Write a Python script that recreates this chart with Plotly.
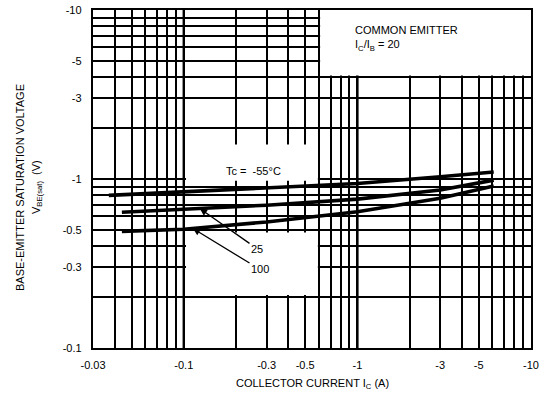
import numpy as np
import plotly.graph_objects as go

# ---- data (magnitudes of negative quantities; labels carry the minus sign) ----
ic_m55 = [0.037, 0.1, 0.3, 1.0, 3.0, 6.1]
vbe_m55 = [0.80, 0.84, 0.885, 0.94, 1.03, 1.10]
ic_25 = [0.044, 0.1, 0.3, 1.0, 3.0, 6.1]
vbe_25 = [0.636, 0.66, 0.70, 0.76, 0.86, 0.985]
ic_100 = [0.044, 0.1, 0.3, 1.0, 3.0, 6.1]
vbe_100 = [0.49, 0.504, 0.557, 0.64, 0.77, 0.91]

x_grid = [0.03, 0.04, 0.05, 0.06, 0.07, 0.08, 0.09,
          0.1, 0.2, 0.3, 0.4, 0.5, 0.6, 0.7, 0.8, 0.9,
          1, 2, 3, 4, 5, 6, 7, 8, 9, 10]
x_labels = {0.03: "-0.03", 0.1: "-0.1", 0.3: "-0.3", 0.5: "-0.5",
            1: "-1", 3: "-3", 5: "-5", 10: "-10"}
y_grid = [0.1, 0.2, 0.3, 0.4, 0.5, 0.6, 0.7, 0.8, 0.9,
          1, 2, 3, 4, 5, 6, 7, 8, 9, 10]
y_labels = {0.1: "-0.1", 0.3: "-0.3", 0.5: "-0.5", 1: "-1",
            3: "-3", 5: "-5", 10: "-10"}
major_x = [0.1, 1]

W, H = 543, 396
L, R, T, B = 93, 12, 10, 48
pw, ph = W - L - R, H - T - B


def px(x):
    return (x - L) / pw


def py(y):
    return (H - B - y) / ph


FONT = "Liberation Sans, Arial, Helvetica, sans-serif"

fig = go.Figure()
for xs, ys in [(ic_m55, vbe_m55), (ic_25, vbe_25), (ic_100, vbe_100)]:
    fig.add_trace(go.Scatter(x=xs, y=ys, mode="lines",
                             line=dict(color="black", width=3.6),
                             showlegend=False, hoverinfo="skip"))

shapes = []
for v in major_x:
    shapes.append(dict(type="line", xref="x", yref="paper",
                       x0=v, x1=v, y0=0, y1=1,
                       line=dict(color="black", width=2.4), layer="above"))
# white blank areas (as in the printed datasheet); shapes use data values
boxes = [
    (0.103, 0.592, 0.975, 1.6),   # behind "Tc = -55°C"
    (0.103, 0.592, 0.206, 0.482), # behind "25" / "100"
    (0.61, 10.0, 4.1, 10.0),      # behind "COMMON EMITTER"
]
for x0, x1, y0, y1 in boxes:
    shapes.append(dict(type="rect", xref="x", yref="y",
                       x0=x0, x1=x1, y0=y0, y1=y1,
                       fillcolor="white", line=dict(width=0), layer="above"))


def tip(xv, xs, ys):
    return float(np.interp(np.log10(xv), np.log10(xs), np.log10(ys)))


annotations = [
    dict(xref="paper", yref="paper", x=px(253), y=py(171), text="Tc =  -55°C",
         showarrow=False, xanchor="center", yanchor="middle",
         font=dict(size=11, color="black", family=FONT)),
    dict(xref="paper", yref="paper", x=px(353), y=py(22),
         text="COMMON EMITTER<br>I<sub>C</sub>/I<sub>B</sub> = 20",
         showarrow=False, xanchor="left", yanchor="top", align="left",
         font=dict(size=11, color="black", family=FONT)),
    dict(xref="x", yref="y", x=np.log10(0.124), y=tip(0.124, ic_25, vbe_25),
         text="25", showarrow=True, ax=57, ay=40, arrowhead=2, arrowsize=1.1,
         arrowwidth=1.3, arrowcolor="black",
         font=dict(size=11, color="black", family=FONT)),
    dict(xref="x", yref="y", x=np.log10(0.113), y=tip(0.113, ic_100, vbe_100),
         text="100", showarrow=True, ax=67, ay=41, arrowhead=2, arrowsize=1.1,
         arrowwidth=1.3, arrowcolor="black",
         font=dict(size=11, color="black", family=FONT)),
    dict(xref="paper", yref="paper", x=px(312), y=py(384),
         text="COLLECTOR CURRENT I<sub>C</sub> (A)", showarrow=False,
         xanchor="center", yanchor="middle",
         font=dict(size=11, color="black", family=FONT)),
    dict(xref="paper", yref="paper", x=px(20), y=py(188),
         text="BASE-EMITTER SATURATION VOLTAGE", showarrow=False,
         textangle=-90, xanchor="center", yanchor="middle",
         font=dict(size=11, color="black", family=FONT)),
    dict(xref="paper", yref="paper", x=px(37), y=py(187),
         text="V<sub>BE(sat)</sub>  (V)", showarrow=False,
         textangle=-90, xanchor="center", yanchor="middle",
         font=dict(size=11, color="black", family=FONT)),
]

axis_common = dict(type="log", showgrid=True, gridcolor="black", gridwidth=1.6,
                   showline=True, linecolor="black", linewidth=2.4, mirror=True,
                   ticks="", zeroline=False, automargin=False,
                   tickfont=dict(size=11, color="black", family=FONT))

fig.update_xaxes(range=[np.log10(0.03), 1], tickvals=x_grid,
                 ticktext=[x_labels.get(v, "") for v in x_grid],
                 ticklabelstandoff=6, **axis_common)
fig.update_yaxes(range=[-1, 1], tickvals=y_grid,
                 ticktext=[y_labels.get(v, "") for v in y_grid],
                 ticklabelstandoff=7, **axis_common)

fig.update_layout(width=W, height=H, margin=dict(l=L, r=R, t=T, b=B, autoexpand=False),
                  paper_bgcolor="white", plot_bgcolor="white",
                  shapes=shapes, annotations=annotations,
                  font=dict(family=FONT, color="black"))

fig.write_html("out.html")
